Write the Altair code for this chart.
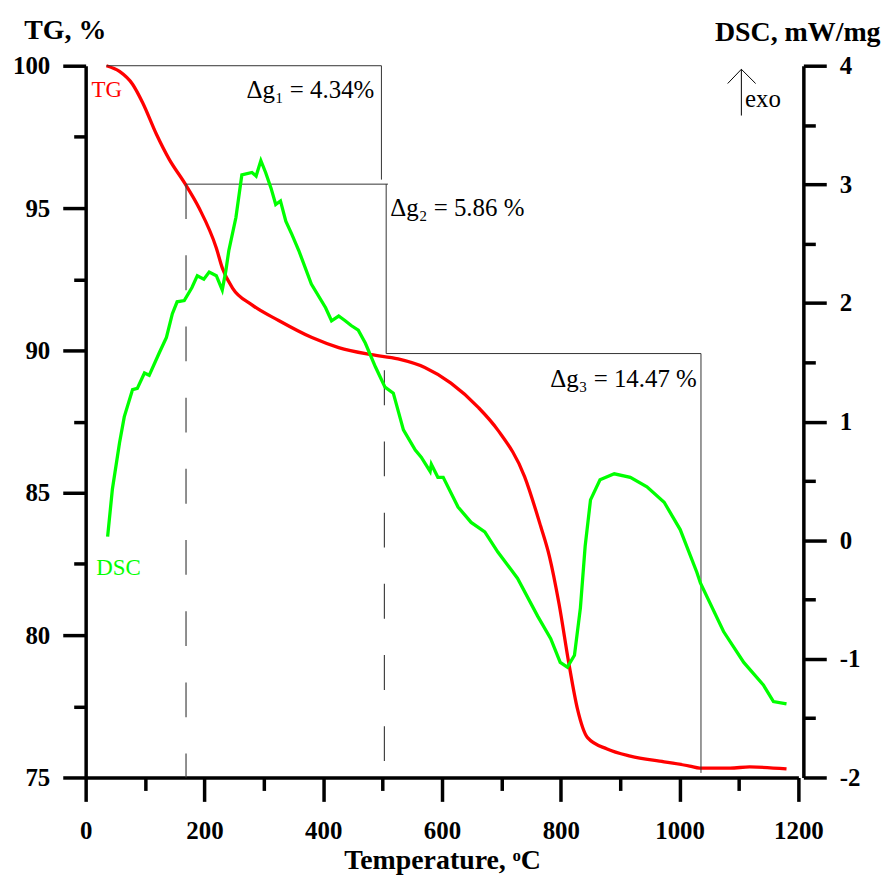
import altair as alt
import pandas as pd

# ---------------- data ----------------
tg_temp = [35, 57, 79, 96, 119, 141, 166, 191, 220, 230, 247, 280, 325, 381, 426, 481,
           526, 571, 615, 661, 694, 739, 766, 781, 797, 814, 828, 845, 878, 917, 974,
           1017, 1034, 1085, 1118, 1180]
tg_mass = [100.0, 99.8, 99.35, 98.7, 97.6, 96.7, 95.9, 95.0, 93.6, 92.9, 92.2, 91.6,
           91.05, 90.45, 90.1, 89.85, 89.7, 89.4, 88.85, 88.0, 87.2, 85.57, 83.83, 82.75,
           81.1, 78.95, 77.41, 76.4, 76.0, 75.75, 75.55, 75.4, 75.33, 75.33, 75.37, 75.3]

dsc_temp = [37, 45, 57, 65, 79, 87, 99, 107, 124, 136, 146, 154, 166, 179, 188, 199, 208,
            220, 230, 236, 241, 253, 263, 280, 287, 295, 303, 312, 320, 328, 337, 347,
            359, 380, 404, 414, 426, 437, 447, 459, 471, 488, 504, 518, 535, 555, 565,
            580, 582, 593, 602, 627, 649, 672, 694, 727, 761, 783, 799, 811, 823, 833,
            841, 850, 866, 890, 917, 945, 974, 1001, 1029, 1035, 1074, 1108, 1141, 1158,
            1180]
dsc_val = [0.03, 0.43, 0.82, 1.04, 1.27, 1.28, 1.41, 1.39, 1.58, 1.71, 1.91, 2.01, 2.02,
           2.13, 2.23, 2.20, 2.26, 2.23, 2.11, 2.27, 2.44, 2.72, 3.08, 3.10, 3.07, 3.20,
           3.10, 2.97, 2.83, 2.86, 2.69, 2.58, 2.44, 2.16, 1.96, 1.85, 1.89, 1.85, 1.81,
           1.77, 1.66, 1.46, 1.29, 1.24, 0.93, 0.76, 0.70, 0.58, 0.64, 0.53, 0.53, 0.28,
           0.15, 0.07, -0.10, -0.32, -0.64, -0.83, -1.03, -1.07, -0.97, -0.57, -0.05,
           0.34, 0.51, 0.56, 0.53, 0.45, 0.32, 0.09, -0.27, -0.36, -0.77, -1.03, -1.22,
           -1.36, -1.38]

# mass-loss brackets (TG scale)
seg_x1 = [35, 498, 169, 506, 506, 1036]
seg_x2 = [498, 498, 509, 506, 1036, 1036]
seg_y1 = [100, 100, 95.84, 95.84, 89.89, 89.89]
seg_y2 = [100, 96.0, 95.84, 89.89, 89.89, 75.16]

dash_x = [169, 503]
dash_top = [95.84, 89.30]
dash_bottom = [75, 75]

# annotation texts
right_texts = ["Δg₁ = 4.34%", "Δg₃ = 14.47 %"]
right_tx = [486, 1029]
right_ty = [98.85, 88.70]
left_texts = ["Δg₂ = 5.86 %"]
left_tx = [513]
left_ty = [94.71]

# exo arrow (DSC scale)
arrow_x1 = [1104, 1081, 1128]
arrow_x2 = [1104, 1104, 1104]
arrow_y1 = [3.58, 3.85, 3.85]
arrow_y2 = [3.97, 3.97, 3.97]

x_ticks = list(range(0, 1201, 100))
tg_ticks = [75 + 2.5 * i for i in range(11)]
dsc_ticks = [-2 + 0.5 * i for i in range(13)]

FONT = "Liberation Serif"

# ---------------- tables ----------------
tg_df = pd.DataFrame({"T": tg_temp, "TG": tg_mass})
dsc_df = pd.DataFrame({"T": dsc_temp, "DSC": dsc_val})
seg_df = pd.DataFrame({"x1": seg_x1, "x2": seg_x2, "y1": seg_y1, "y2": seg_y2})
dash_df = pd.DataFrame({"x": dash_x, "top": dash_top, "bottom": dash_bottom})
rt_df = pd.DataFrame({"t": right_texts, "x": right_tx, "y": right_ty})
lt_df = pd.DataFrame({"t": left_texts, "x": left_tx, "y": left_ty})
tgl_df = pd.DataFrame({"t": ["TG"], "x": [10], "y": [98.9]})
dscl_df = pd.DataFrame({"t": ["DSC"], "x": [18], "y": [-0.29]})
exo_df = pd.DataFrame({"t": ["exo"], "x": [1110], "y": [3.65]})
arrow_df = pd.DataFrame({"x1": arrow_x1, "x2": arrow_x2, "y1": arrow_y1, "y2": arrow_y2})

xscale = alt.Scale(domain=[0, 1200], nice=False, zero=False)
tgscale = alt.Scale(domain=[75, 100], nice=False, zero=False)
dscscale = alt.Scale(domain=[-2, 4], nice=False, zero=False)

common_axis = dict(
    labelFont=FONT, labelFontSize=25, labelFontWeight="bold", labelColor="black",
    titleFont=FONT, titleFontSize=28, titleFontWeight="bold", titleColor="black",
    domainColor="black", domainWidth=3.5, tickColor="black", tickWidth=3.5,
    grid=False, labelOverlap=False, labelBound=False, labelFlush=False,
)

x_axis = alt.Axis(
    values=x_ticks,
    labelExpr="datum.value % 200 === 0 ? '' + datum.value : ''",
    tickSize={"condition": {"test": "datum.value % 200 === 0", "value": 24}, "value": 13},
    labelPadding=17,
    title="Temperature, ᵒC",
    titleBaseline="alphabetic", titleY=91,
    **common_axis,
)

tg_axis = alt.Axis(
    values=tg_ticks,
    labelExpr="datum.value % 5 === 0 ? '' + datum.value : ''",
    tickSize={"condition": {"test": "datum.value % 5 === 0", "value": 23}, "value": 12},
    labelPadding=13,
    title="TG, %", titleAngle=0, titleAlign="center", titleBaseline="alphabetic",
    titleX=-21, titleY=-27,
    orient="left",
    **common_axis,
)

dsc_axis = alt.Axis(
    values=dsc_ticks,
    labelExpr="datum.value % 1 === 0 ? (datum.value < 0 ? '-' + abs(datum.value) : '' + datum.value) : ''",
    tickSize={"condition": {"test": "datum.value % 1 === 0", "value": 23}, "value": 12},
    labelPadding=13,
    title="DSC, mW/mg", titleAngle=0, titleAlign="right", titleBaseline="alphabetic",
    titleX=77, titleY=-25,
    orient="right", offset=5,
    **common_axis,
)

# ---------------- TG-scale layers ----------------
tg_line = alt.Chart(tg_df).mark_line(color="#ff0000", strokeWidth=3.3, interpolate="monotone").encode(
    x=alt.X("T:Q", scale=xscale, axis=x_axis),
    y=alt.Y("TG:Q", scale=tgscale, axis=tg_axis),
)

seg = alt.Chart(seg_df).mark_rule(color="#333333", strokeWidth=1).encode(
    x=alt.X("x1:Q", scale=xscale), x2="x2:Q",
    y=alt.Y("y1:Q", scale=tgscale), y2="y2:Q",
)

dash = alt.Chart(dash_df).mark_rule(color="#444444", strokeWidth=1.2, strokeDash=[35, 36.5]).encode(
    x=alt.X("x:Q", scale=xscale),
    y=alt.Y("top:Q", scale=tgscale), y2="bottom:Q",
)

rtext = alt.Chart(rt_df).mark_text(font=FONT, fontSize=25, align="right", baseline="alphabetic", color="black").encode(
    x=alt.X("x:Q", scale=xscale), y=alt.Y("y:Q", scale=tgscale), text="t:N")
ltext = alt.Chart(lt_df).mark_text(font=FONT, fontSize=25, align="left", baseline="alphabetic", color="black").encode(
    x=alt.X("x:Q", scale=xscale), y=alt.Y("y:Q", scale=tgscale), text="t:N")
tglabel = alt.Chart(tgl_df).mark_text(font=FONT, fontSize=23, align="left", baseline="alphabetic", color="#ff0000").encode(
    x=alt.X("x:Q", scale=xscale), y=alt.Y("y:Q", scale=tgscale), text="t:N")

tg_layer = alt.layer(tg_line, seg, dash, rtext, ltext, tglabel)

# ---------------- DSC-scale layers ----------------
dsc_line = alt.Chart(dsc_df).mark_line(color="#00ff00", strokeWidth=3.3).encode(
    x=alt.X("T:Q", scale=xscale),
    y=alt.Y("DSC:Q", scale=dscscale, axis=dsc_axis),
)
dsclabel = alt.Chart(dscl_df).mark_text(font=FONT, fontSize=23, align="left", baseline="alphabetic", color="#00ff00").encode(
    x=alt.X("x:Q", scale=xscale), y=alt.Y("y:Q", scale=dscscale), text="t:N")
exo = alt.Chart(exo_df).mark_text(font=FONT, fontSize=25, align="left", baseline="alphabetic", color="black").encode(
    x=alt.X("x:Q", scale=xscale), y=alt.Y("y:Q", scale=dscscale), text="t:N")
arrow = alt.Chart(arrow_df).mark_rule(color="black", strokeWidth=1).encode(
    x=alt.X("x1:Q", scale=xscale), x2="x2:Q",
    y=alt.Y("y1:Q", scale=dscscale), y2="y2:Q",
)

dsc_layer = alt.layer(dsc_line, dsclabel, exo, arrow)

chart = alt.layer(tg_layer, dsc_layer).resolve_scale(y="independent").properties(
    width=716, height=715,
    autosize=alt.AutoSizeParams(type="none"),
    padding={"left": 78, "top": 56, "right": 86, "bottom": 98},
).configure_view(stroke=None)

chart.save("out.html", embed_options={"renderer": "svg", "actions": False})
